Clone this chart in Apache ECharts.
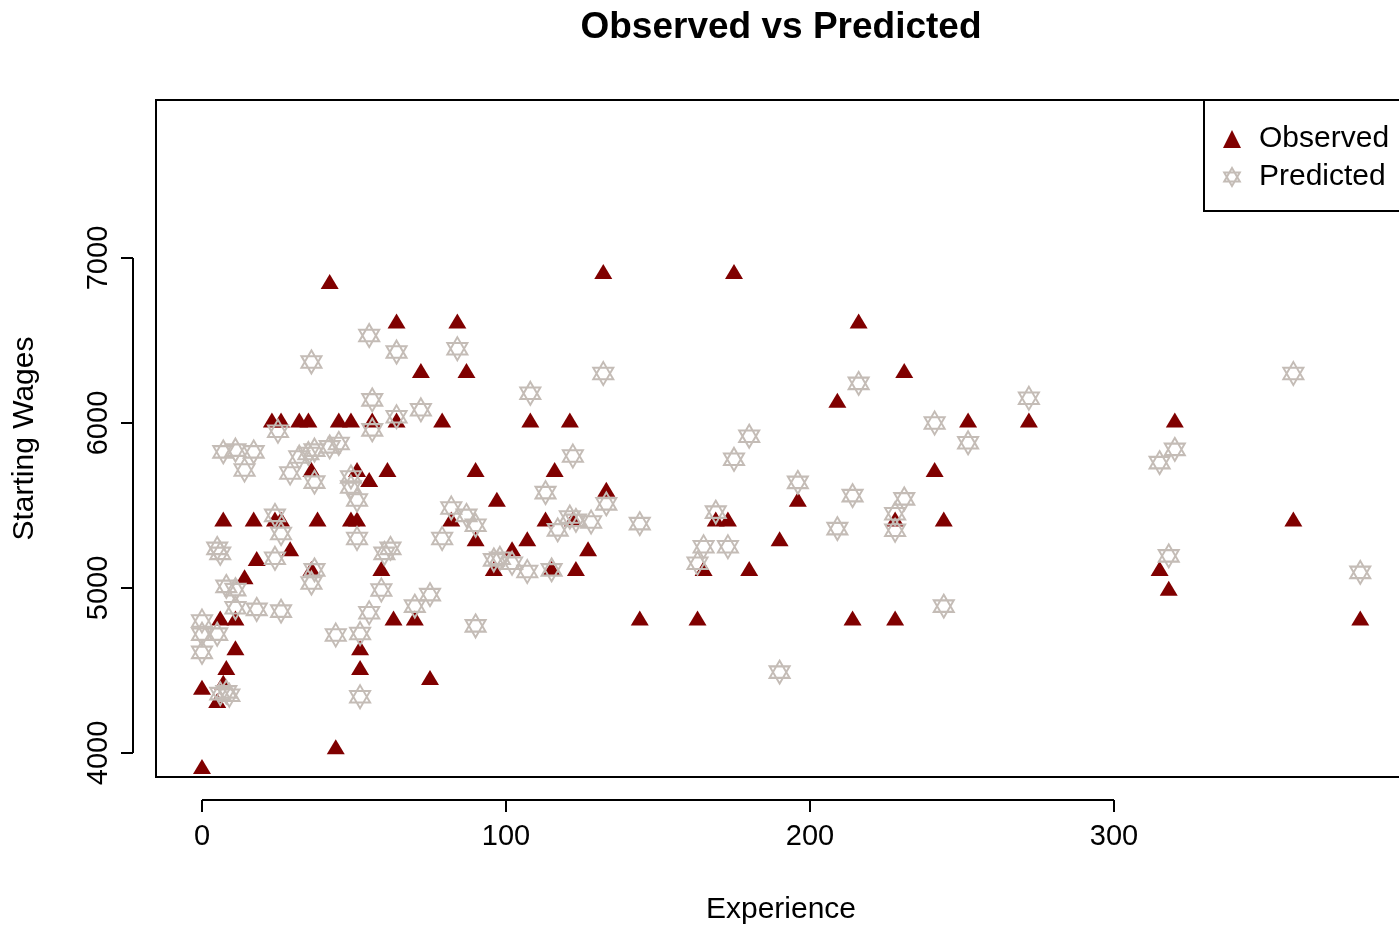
<!DOCTYPE html>
<html>
<head>
<meta charset="utf-8">
<script src="https://cdn.jsdelivr.net/npm/echarts@6/dist/echarts.min.js"></script>
<style>
html,body{margin:0;padding:0;background:#fff;overflow:hidden;width:1399px;height:925px;}
#chart{width:1420px;height:925px;}
</style>
</head>
<body>
<div id="chart"></div>
<script>
// ---- data ----
const seriesNames = ['Observed', 'Predicted'];
const xTicks = [0, 100, 200, 300];
const yTicks = [4000, 5000, 6000, 7000];

const observedX = [0,0,5,7,8,11,6,11,14,18,29,36,7,17,24,26,38,49,51,59,63,52,52,44,42,64,23,26,32,35,45,49,56,64,36,51,55,61,84,72,87,79,108,121,90,116,97,133,132,82,90,113,122,107,102,127,96,115,123,70,75,175,216,231,209,241,244,196,169,173,228,190,165,180,144,163,214,228,252,272,320,315,318,359,381];
const observedY = [3900,4380,4300,4410,4500,4620,4800,4800,5050,5160,5220,5100,5400,5400,5400,5400,5400,5400,5400,5100,4800,4620,4500,4020,6840,6600,6000,6000,6000,6000,6000,6000,6000,6000,5700,5700,5640,5700,6600,6300,6300,6000,6000,6000,5700,5700,5520,5580,6900,5400,5280,5400,5400,5280,5220,5220,5100,5100,5100,4800,4440,6900,6600,6300,6120,5700,5400,5520,5400,5400,5400,5280,5100,5100,4800,4800,4800,4800,6000,6000,6000,5100,4980,5400,4800];

const predictedX = [0,0,5,0,6,8,9,8,11,11,18,26,5,6,24,26,24,7,11,17,14,25,32,35,29,37,42,45,37,49,49,51,51,60,62,37,36,59,55,44,52,52,55,36,64,56,56,64,84,132,108,72,122,113,133,82,87,90,79,96,98,102,107,115,121,123,128,117,75,70,90,144,180,175,196,216,241,214,169,209,231,228,228,165,173,163,190,244,252,272,315,320,318,359,381];
const predictedY = [4800,4720,4720,4610,4360,4370,4350,5010,4990,4880,4870,4860,5240,5210,5440,5330,5180,5825,5836,5825,5715,5950,5794,5815,5697,5836,5855,5876,5642,5673,5612,5533,5300,5210,5240,5110,5030,4988,4850,4715,4724,4341,6530,6370,6430,6140,5958,6038,6450,6300,6180,6080,5800,5578,5510,5485,5440,5380,5300,5170,5180,5150,5100,5110,5430,5410,5400,5352,4960,4890,4770,5390,5920,5780,5640,6240,6000,5560,5460,5360,5540,5450,5350,5250,5250,5150,4490,4890,5880,6150,5760,5840,5195,6300,5095];

// ---- chart ----
const FONT = '"Liberation Sans", Arial, Helvetica, sans-serif';
const OBS_COLOR = '#800000';
const PRED_COLOR = '#c4bcb6';
const STAR = 'path://M10,0L18.66,15L1.34,15Z M10,20L18.66,5L1.34,5Z';
const xMin = -15.13, xMax = 396.05;
const yMin = 3854.5, yMax = 7957.6;
const AXIS_OFFSET = 23;

const chart = echarts.init(document.getElementById('chart'), null, {renderer: 'canvas'});

function pairs(xs, ys) { return xs.map((x, i) => [x, ys[i]]); }

const option = {
  animation: false,
  backgroundColor: '#fff',
  textStyle: {fontFamily: FONT},
  title: {
    text: 'Observed vs Predicted',
    left: 776, top: 4, textAlign: 'center',
    textStyle: {fontSize: 37, fontWeight: 'bold', color: '#000', fontFamily: FONT}
  },
  legend: {
    left: 1204, top: 100, orient: 'vertical',
    borderColor: '#000', borderWidth: 2,
    padding: [24, 20, 19, 19],
    itemGap: 8, itemWidth: 18, itemHeight: 18,
    textStyle: {fontSize: 30, color: '#000', fontFamily: FONT, padding: [0, 0, 0, 13], lineHeight: 30},
    data: [
      {name: seriesNames[0], icon: 'triangle', itemStyle: {color: OBS_COLOR, borderWidth: 0}},
      {name: seriesNames[1], icon: STAR, itemStyle: {color: 'rgba(0,0,0,0)', borderColor: PRED_COLOR, borderWidth: 2}}
    ],
    selectedMode: false
  },
  grid: {
    left: 156, top: 100, width: 1250, height: 677,
    outerBoundsMode: 'none', containLabel: false,
    show: true, borderColor: '#000', borderWidth: 2, backgroundColor: 'transparent'
  },
  xAxis: {
    type: 'value', min: xMin, max: xMax, offset: AXIS_OFFSET,
    axisLine: {show: false, onZero: false},
    axisTick: {show: true, length: 12, lineStyle: {color: '#000', width: 2}, customValues: xTicks},
    axisLabel: {customValues: xTicks, fontSize: 29, color: '#000', margin: 22, fontFamily: FONT,
      formatter: v => String(v)},
    splitLine: {show: false},
    name: 'Experience', nameLocation: 'middle', nameGap: 95,
    nameTextStyle: {fontSize: 30, color: '#000', fontFamily: FONT}
  },
  yAxis: {
    type: 'value', min: yMin, max: yMax, offset: AXIS_OFFSET,
    axisLine: {show: false, onZero: false},
    axisTick: {show: true, length: 12, lineStyle: {color: '#000', width: 2}, customValues: yTicks},
    axisLabel: {customValues: yTicks, fontSize: 29, color: '#000', margin: 20, rotate: 90, fontFamily: FONT,
      formatter: v => String(v)},
    splitLine: {show: false},
    name: 'Starting Wages', nameLocation: 'middle', nameGap: 93,
    nameTextStyle: {fontSize: 30, color: '#000', fontFamily: FONT}
  },
  series: [
    {
      name: seriesNames[0], type: 'scatter',
      data: pairs(observedX, observedY),
      symbol: 'triangle', symbolSize: [18, 15], symbolOffset: [0, -3],
      itemStyle: {color: OBS_COLOR, opacity: 1},
      emphasis: {disabled: true}, z: 2
    },
    {
      name: seriesNames[1], type: 'scatter',
      data: pairs(predictedX, predictedY),
      symbol: STAR, symbolSize: [20, 23],
      itemStyle: {color: 'rgba(0,0,0,0)', borderColor: PRED_COLOR, borderWidth: 2, opacity: 1},
      emphasis: {disabled: true}, z: 3
    }
  ]
};
chart.setOption(option);

// R-style axis lines spanning first to last tick, offset outside the box
const xa = chart.convertToPixel({gridIndex: 0}, [xTicks[0], yMin]);
const xb = chart.convertToPixel({gridIndex: 0}, [xTicks[xTicks.length - 1], yMin]);
const ya = chart.convertToPixel({gridIndex: 0}, [xMin, yTicks[0]]);
const yb = chart.convertToPixel({gridIndex: 0}, [xMin, yTicks[yTicks.length - 1]]);
chart.setOption({
  graphic: [
    {type: 'line', shape: {x1: xa[0], y1: xa[1] + AXIS_OFFSET, x2: xb[0], y2: xb[1] + AXIS_OFFSET},
     style: {stroke: '#000', lineWidth: 2}, silent: true},
    {type: 'line', shape: {x1: ya[0] - AXIS_OFFSET, y1: ya[1], x2: yb[0] - AXIS_OFFSET, y2: yb[1]},
     style: {stroke: '#000', lineWidth: 2}, silent: true}
  ]
});
</script>
</body>
</html>
